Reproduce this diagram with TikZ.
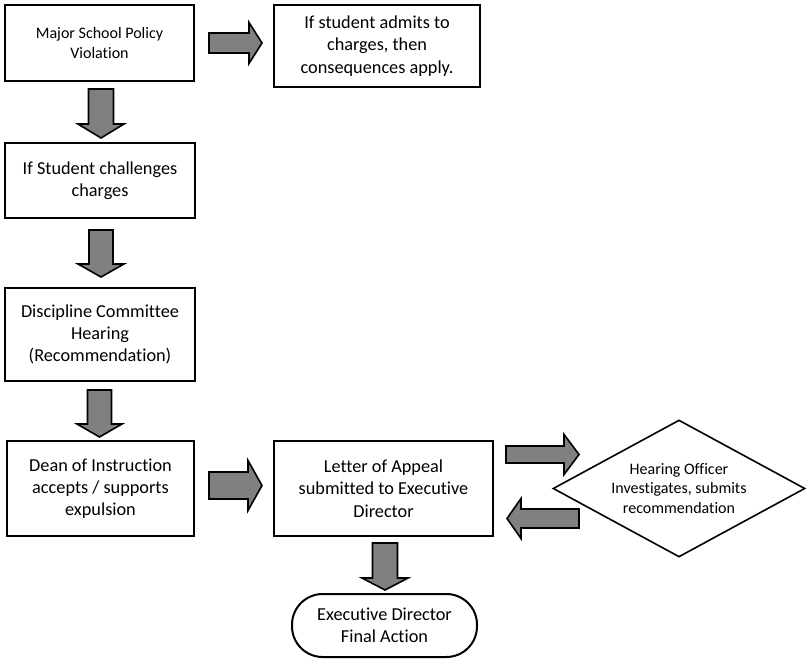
\documentclass[tikz,border=0pt]{standalone}
\usepackage{fontspec}
\setmainfont[Ligatures={NoCommon}]{Carlito}
\usetikzlibrary{shapes.geometric,calc}
\tikzset{
  boxnode/.style 2 args={draw=black, line width=1.5pt, rectangle, align=center, inner sep=0pt,
    minimum width=#1*0.75pt, minimum height=#2*0.75pt, font=\fontsize{13.7}{16.7}\selectfont},
  smalltext/.style={font=\fontsize{12}{14.6}\selectfont},
  barrow/.style={draw=black, line width=1.2pt, fill=gray, line join=miter},
  pics/blockarr/.style n args={4}{code={
    \draw[barrow] (0,-#2) -- ({#1-#4},-#2) -- ({#1-#4},-#3) -- (#1,0) -- ({#1-#4},#3) -- ({#1-#4},#2) -- (0,#2) -- cycle;}}
}
\begin{document}
\begin{tikzpicture}[x=0.75pt,y=-0.75pt]
\useasboundingbox (0,0) rectangle (806,659);
\node[boxnode={189}{76}, smalltext] (b1) at (99.5,43) {Major School Policy\\Violation};
\node[boxnode={206}{82}] (b2) at (377,46) {If student admits to\\charges, then\\consequences apply.};
\node[boxnode={190}{75}] (b3) at (100,180.5) {If Student challenges\\charges};
\node[boxnode={190}{93}] (b4) at (100,334.5) {Discipline Committee\\Hearing\\(Recommendation)};
\node[boxnode={187}{95}] (b5) at (100.5,488.5) {Dean of Instruction\\accepts / supports\\expulsion};
\node[boxnode={219}{95}] (b6) at (383.5,488.5) {Letter of Appeal\\submitted to Executive\\Director};
\node[boxnode={185}{63}, rounded corners=23pt] (b7) at (384.5,625.5) {Executive Director\\Final Action};
\node[draw=black, line width=1.2pt, diamond, aspect=1.84, inner sep=0pt, minimum width=252*0.75pt, minimum height=137*0.75pt,
  align=center, smalltext] (d) at (679,488.5) {Hearing Officer\\Investigates, submits\\recommendation};
\pic at ($(b1.east)+(14,0)$) {blockarr={53}{10}{20.5}{13}};
\pic[rotate=-90] at ($(b1.south)+(1.5,7)$) {blockarr={49}{12.5}{23}{14}};
\pic[rotate=-90] at ($(b3.south)+(1,11)$) {blockarr={47}{12}{23}{13}};
\pic[rotate=-90] at ($(b4.south)+(-0.5,8)$) {blockarr={47}{12}{22.5}{13}};
\pic at ($(b5.east)+(14,-3)$) {blockarr={53}{13.5}{25}{14}};
\pic[rotate=-90] at ($(b6.south)+(1.5,6)$) {blockarr={47}{12.5}{23}{12}};
\pic at ($(b6.east)+(12,-34)$) {blockarr={73}{8.5}{20}{15}};
\pic[rotate=180] at ($(b6.east)+(85,30)$) {blockarr={72}{9.5}{20}{14}};
\end{tikzpicture}
\end{document}
